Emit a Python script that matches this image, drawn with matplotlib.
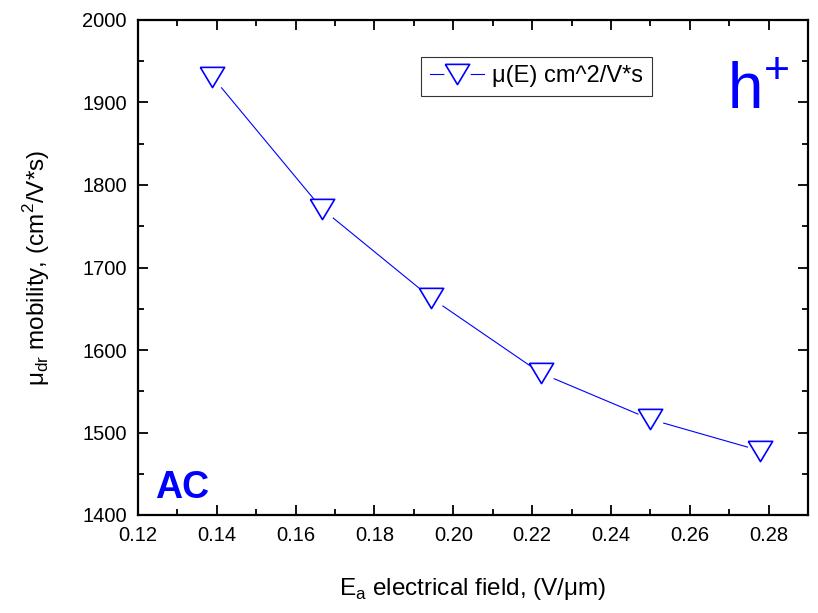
import matplotlib
matplotlib.use("Agg")
import matplotlib.pyplot as plt
from matplotlib.ticker import MultipleLocator, FormatStrFormatter
from matplotlib.legend_handler import HandlerTuple

plt.rcParams['font.family'] = ['Liberation Sans', 'DejaVu Sans']
plt.rcParams['mathtext.fontset'] = 'custom'
plt.rcParams['mathtext.rm'] = 'Liberation Sans'

# drift mobility vs applied field
field = [0.1389, 0.1667, 0.1944, 0.2222, 0.2500, 0.2778]
mobility = [1931, 1771, 1663, 1572, 1516, 1478]

blue = '#0000ff'
# wide downward triangle, like Origin's symbol
tri_down = [(-1.2, 1.0), (1.2, 1.0), (0.0, -1.0), (-1.2, 1.0)]

fig = plt.figure(figsize=(8.18, 6.13), dpi=100)
ax = fig.add_axes([138 / 818, 1 - 515 / 613, 670 / 818, 495 / 613])

# line first, then a white halo so the line stops short of each symbol
ln, = ax.plot(field, mobility, color=blue, lw=0.8, zorder=2)
halo, = ax.plot(field, mobility, ls='none', marker='o', ms=19, mfc='white', mec='none', zorder=3)
tri, = ax.plot(field, mobility, ls='none', marker=tri_down, ms=17.5, mfc='white', mec=blue,
               mew=1.2, zorder=4)

# all three artists stacked in one legend handle
leg = ax.legend([(ln, halo, tri)], ['μ(E) cm^2/V*s'],
                handler_map={tuple: HandlerTuple(ndivide=1, pad=0)},
                loc='upper left', bbox_to_anchor=(0.423, 0.925), fontsize=17,
                frameon=True, fancybox=False, edgecolor='black', handlelength=2.3,
                handletextpad=0.35, borderpad=0.35, borderaxespad=0)
leg.get_frame().set_linewidth(0.8)

ax.set_xlim(0.12, 0.29)
ax.set_ylim(1400, 2000)
ax.xaxis.set_major_locator(MultipleLocator(0.02))
ax.xaxis.set_minor_locator(MultipleLocator(0.01))
ax.yaxis.set_major_locator(MultipleLocator(100))
ax.yaxis.set_minor_locator(MultipleLocator(50))
ax.xaxis.set_major_formatter(FormatStrFormatter('%.2f'))

ax.tick_params(which='both', direction='in', top=True, right=True, labelsize=14.5, width=1.3)
ax.tick_params(which='major', length=7, pad=8)
ax.tick_params(which='minor', length=4)
for sp in ax.spines.values():
    sp.set_linewidth(1.6)

ax.set_xlabel(r'E$_\mathregular{a}$ electrical field, (V/μm)', fontsize=17.5, labelpad=22)
ax.set_ylabel(r'μ$_\mathregular{dr}$ mobility, (cm$^\mathregular{2}$/V*s)', fontsize=17.5, labelpad=22)

ax.text(0.925, 0.82, r'h$^\mathregular{+}$', transform=ax.transAxes, fontsize=46,
        color=blue, ha='center', va='baseline')
ax.text(0.025, 0.035, 'AC', transform=ax.transAxes, fontsize=27, fontweight='bold',
        color=blue, ha='left', va='baseline')

fig.savefig('out.png', dpi=100)
